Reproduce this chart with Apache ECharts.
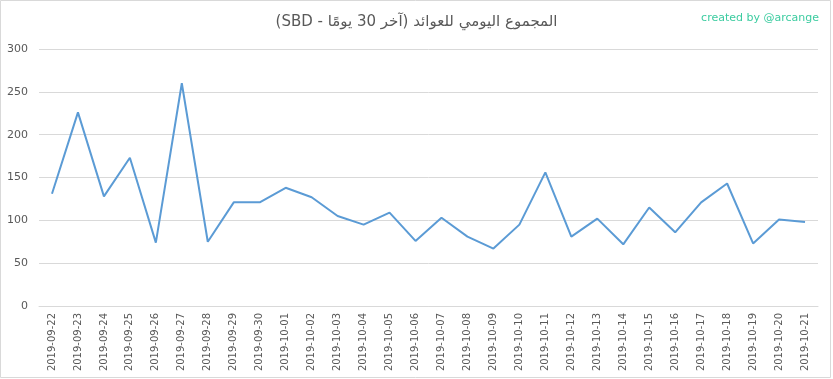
<!DOCTYPE html>
<html><head><meta charset="utf-8">
<script src="https://cdn.jsdelivr.net/npm/echarts@6/dist/echarts.min.js"></script>
<style>html,body{margin:0;padding:0;background:#fff}#c{width:833px;height:379px}</style>
</head><body><div id="c"></div>
<script>
const titleText = 'المجموع اليومي للعوائد (آخر 30 يومًا - SBD)';
const watermark = 'created by @arcange';
const categories = ['2019-09-22','2019-09-23','2019-09-24','2019-09-25','2019-09-26','2019-09-27','2019-09-28','2019-09-29','2019-09-30','2019-10-01','2019-10-02','2019-10-03','2019-10-04','2019-10-05','2019-10-06','2019-10-07','2019-10-08','2019-10-09','2019-10-10','2019-10-11','2019-10-12','2019-10-13','2019-10-14','2019-10-15','2019-10-16','2019-10-17','2019-10-18','2019-10-19','2019-10-20','2019-10-21'];
const values = [131,226,128,173,74,260,75,121,121,138,127,105,95,109,76,103,81,67,95,156,81,102,72,115,86,121,143,73,101,98];
const yTicks = {min:0, max:300, interval:50};

const chart = echarts.init(document.getElementById('c'));
chart.setOption({
  animation:false,
  backgroundColor:'#fff',
  textStyle:{fontFamily:'"DejaVu Sans", "Noto Sans", sans-serif'},
  title:[{text:'\u202B' + titleText + '\u202C',left:'center',top:10,textStyle:{fontSize:15,fontWeight:'normal',color:'#595959',fontFamily:'"DejaVu Sans", "Noto Sans", sans-serif'}},
         {text:watermark,right:9,top:8,textStyle:{fontSize:11,fontWeight:'normal',color:'#3ccca0',fontFamily:'"DejaVu Sans", sans-serif'}}],
  graphic:[{type:'rect',shape:{x:0.5,y:0.5,width:830,height:377},style:{fill:'none',stroke:'#d9d9d9',lineWidth:1},silent:true}],
  grid:{left:39,right:15,top:49,bottom:73,containLabel:false},
  xAxis:{type:'category',data:categories,boundaryGap:true,
    axisLine:{lineStyle:{color:'#d9d9d9'}},axisTick:{show:false},
    axisLabel:{rotate:90,color:'#595959',fontSize:10,margin:7,interval:0}},
  yAxis:{type:'value',min:yTicks.min,max:yTicks.max,interval:yTicks.interval,
    axisLine:{show:false},axisTick:{show:false},
    splitLine:{lineStyle:{color:'#d9d9d9'}},
    axisLabel:{color:'#595959',fontSize:11,margin:11}},
  series:[{type:'line',data:values,symbol:'none',lineStyle:{color:'#5b9bd5',width:2},itemStyle:{color:'#5b9bd5'}}]
});
</script></body></html>
